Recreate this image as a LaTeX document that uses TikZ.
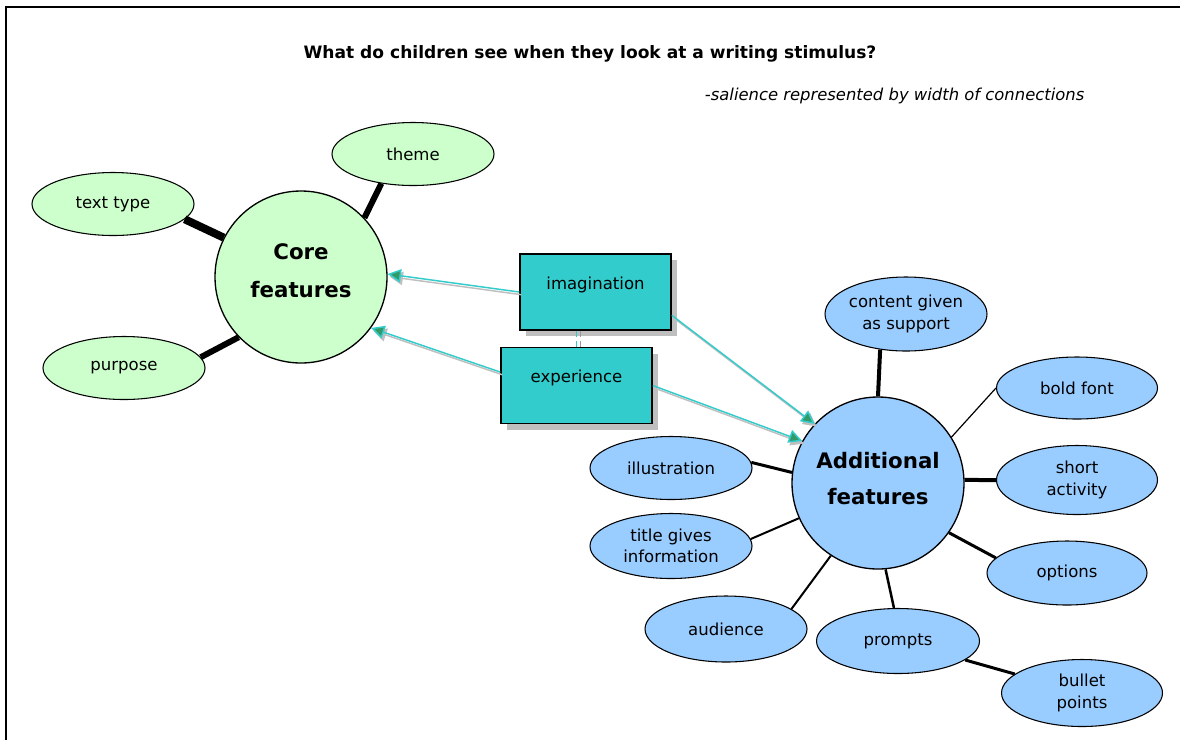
\documentclass[tikz,border=0pt]{standalone}
\usepackage{fontspec}
\setmainfont{DejaVu Sans}
\usetikzlibrary{shapes.geometric,arrows.meta,calc,shadows}
\definecolor{cgreen}{HTML}{CCFFCC}
\definecolor{cblue}{HTML}{99CCFF}
\definecolor{cteal}{HTML}{33CCCC}
\definecolor{cshadow}{HTML}{BFBFBF}
\definecolor{chead}{HTML}{339966}
\tikzset{
  sz/.style 2 args={minimum width=#1*0.75pt, minimum height=#2*0.75pt},
  leaf/.style={ellipse, draw, line width=0.8pt, inner sep=0pt, align=center,
    font=\fontsize{12.4}{16}\selectfont},
  gleaf/.style={leaf, fill=cgreen, sz={162}{63}},
  bleaf/.style={leaf, fill=cblue},
  hub/.style={circle, draw, line width=1pt, minimum size=129pt, inner sep=0pt,
    align=center, font=\bfseries\fontsize{16}{28.5}\selectfont},
  factor/.style={rectangle, draw, line width=1.2pt, fill=cteal, sz={151}{76},
    inner sep=0pt, text height=9pt, text depth=13.5pt,
    font=\fontsize{12.4}{16}\selectfont,
    general shadow={fill=cshadow, shadow xshift=4.5pt, shadow yshift=-4.5pt}},
  tie/.style={line width=#1*0.75pt},
  link/.style={cteal, line width=1.1pt, -{Triangle[length=10pt,width=10pt,fill=chead]}},
  linkshade/.style={cshadow, line width=1.1pt, -{Triangle[length=10pt,width=10pt,fill=cshadow]},
    transform canvas={shift={(1.5pt,-2pt)}}},
  titletext/.style={font=\bfseries\fontsize{12.8}{15}\selectfont},
  subtext/.style={font=\itshape\fontsize{12.3}{15}\selectfont},
}
\begin{document}
\begin{tikzpicture}[x=0.75pt,y=-0.75pt]
\useasboundingbox (0,0) rectangle (1180,740);
\fill[white] (0,0) rectangle (1180,740);
% frame (top and left edges)
\draw[line width=1.8pt] (6,740) -- (6,7) -- (1180,7);

% titles
\node[titletext] (title) at (590,54) {What do children see when they look at a writing stimulus?};
\node[subtext, anchor=east] (sub) at (1089,96) {-salience represented by width of connections};

% core cluster
\node[hub, fill=cgreen] (core) at (301,277) {Core\\features\\[-19.5pt]\mbox{}};
\node[gleaf] (texttype) at (113,204) {text type};
\node[gleaf] (theme) at (413,154) {theme};
\node[gleaf] (purpose) at (124,368) {purpose};
\draw[tie=8] (texttype.-12) -- (core.153);
\draw[tie=6] (theme.223) -- (core.43);
\draw[tie=6] (purpose.8) -- (core.224);

% additional cluster
\node[hub, fill=cblue, font=\bfseries\fontsize{16}{27}\selectfont] (add) at (878,483) {Additional\\features\\[-20pt]\mbox{}};
\node[bleaf, sz={162}{74}] (content) at (906,314) {content given\\as support};
\node[bleaf, sz={161}{62}] (bold) at (1077,388) {bold font};
\node[bleaf, sz={161}{69}] (short) at (1077,480) {short\\activity};
\node[bleaf, sz={160}{64}] (options) at (1067,573) {options};
\node[bleaf, sz={161}{67}] (bullet) at (1082,693) {bullet\\points};
\node[bleaf, sz={163}{65}] (prompts) at (898,641) {prompts};
\node[bleaf, sz={162}{66}] (audience) at (726,629) {audience};
\node[bleaf, sz={162}{63}] (illus) at (671,468) {illustration};
\node[bleaf, sz={162}{65}] (titleg) at (671,546) {title gives\\information};
\draw[tie=4] (content.234) -- (add.north);
\draw[tie=1.2] (bold.180) -- (add.32);
\draw[tie=4] (short.180) -- (add.2);
\draw[tie=3] (options.168) -- (add.-35);
\draw[tie=2.5] (prompts.97) -- (add.275);
\draw[tie=3] (prompts) -- (bullet);
\draw[tie=2] (audience.17) -- (add.237);
\draw[tie=2] (titleg.5) -- (add.204);
\draw[tie=3] (illus.4) -- (add.173);

% factor boxes
\node[factor] (imag) at (595.5,292) {imagination};
\node[factor] (exp) at (576.5,385.5) {experience};
\draw[cshadow!80!black, line width=1.2pt, dash pattern=on 5pt off 3pt, transform canvas={xshift=3pt}]
  (exp.north |- imag.south) -- (exp.north);
\draw[cteal, line width=1.2pt, dash pattern=on 5pt off 3pt]
  (exp.north |- imag.south) -- (exp.north);

% arrows
\draw[linkshade] (imag.west) -- (core.2);
\draw[link] (imag.west) -- (core.2);
\draw[linkshade] (exp.170) -- (core.-36);
\draw[link] (exp.170) -- (core.-36);
\draw[linkshade] (imag.-17) -- (add.137);
\draw[link] (imag.-17) -- (add.137);
\draw[linkshade] (exp.east) -- (add.151);
\draw[link] (exp.east) -- (add.151);
\end{tikzpicture}
\end{document}
